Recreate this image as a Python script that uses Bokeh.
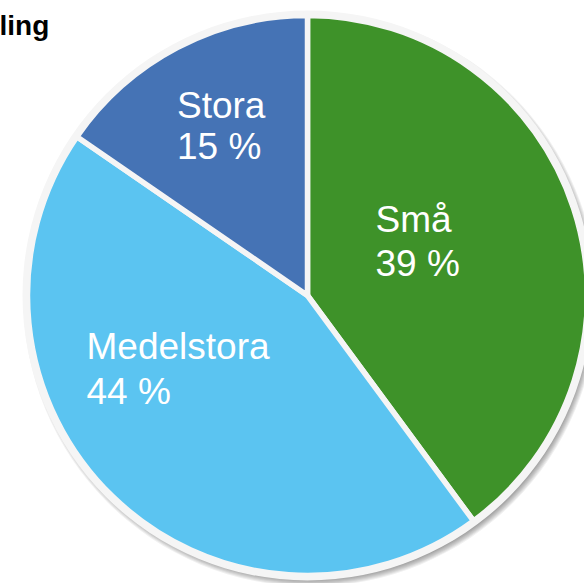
import numpy as np
from bokeh.plotting import figure
from bokeh.models import Range1d, ColumnDataSource
from bokeh.core.properties import value
from bokeh.embed import file_html
from bokeh.resources import INLINE

# ---- data ----
categories = ["Små", "Medelstora", "Stora"]
shares = [39.9, 44.7, 15.4]
pct_labels = ["39 %", "44 %", "15 %"]
colors = ["#3E9229", "#5BC4F1", "#4573B5"]
title_text = "ling"

# ---- layout constants ----
W, H = 584, 583
cx, cy = 307, H - 295
R = 280
border_color = "#F5F5F5"
# label anchors (screen coords): x, baseline of name line, baseline of pct line
label_pos = {
    "Små": (375, 219, 263),
    "Medelstora": (86, 346, 391),
    "Stora": (176.5, 105, 146),
}

p = figure(width=W, height=H, x_range=Range1d(0, W), y_range=Range1d(0, H),
           output_backend="svg", toolbar_location=None, min_border=0)
p.axis.visible = False
p.grid.visible = False
p.outline_line_color = None
p.background_fill_color = "white"
p.border_fill_color = "white"

# shadow (soft, offset to bottom-right)
for k in range(8):
    p.circle(x=cx + 3, y=cy - 4, radius=280 + k, fill_color="black",
             fill_alpha=0.06, line_color=None)

# outer light border
p.circle(x=cx, y=cy, radius=R + 5, fill_color=border_color, line_color=None)

total = float(sum(shares))
cum = np.concatenate([[0.0], np.cumsum(shares)]) / total
start = [np.pi / 2 - 2 * np.pi * c for c in cum[:-1]]
end = [np.pi / 2 - 2 * np.pi * c for c in cum[1:]]

src = ColumnDataSource(dict(cat=categories, start=start, end=end, color=colors))
p.wedge(x=cx, y=cy, radius=R, start_angle="start", end_angle="end",
        direction="clock", fill_color="color", line_color=border_color,
        line_width=5.5, source=src)

lx, ly1, ly2, ltxt1, ltxt2 = [], [], [], [], []
for cat, pct in zip(categories, pct_labels):
    x, b1, b2 = label_pos[cat]
    lx.append(x)
    ly1.append(H - b1)
    ly2.append(H - b2)
    ltxt1.append(cat)
    ltxt2.append(pct)

for ys, txts in ((ly1, ltxt1), (ly2, ltxt2)):
    p.text(x=lx, y=ys, text=txts, text_font=value("Liberation Sans"),
           text_font_size="37px", text_color="white",
           text_baseline="alphabetic", text_align="left")

p.text(x=[-1], y=[H - 25], text=[title_text], text_font=value("Liberation Sans"),
       text_font_size="28px", text_font_style="bold", text_color="black",
       text_baseline="alphabetic", text_align="left")

open("out.html", "w").write(file_html(p, INLINE))
